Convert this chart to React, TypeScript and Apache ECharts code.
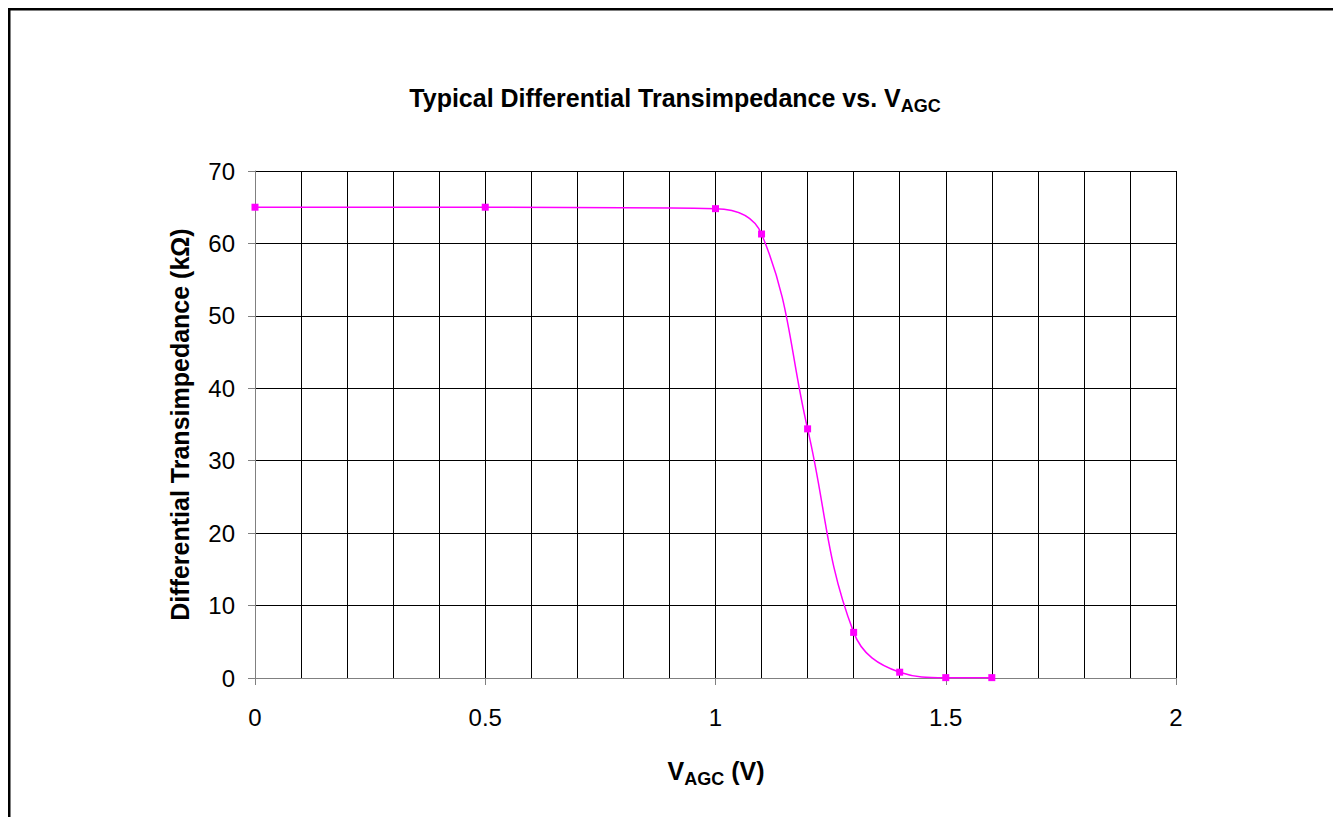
import React, { useEffect, useRef } from "react";
import * as echarts from "echarts";

const vagc = [0, 0.5, 1.0, 1.1, 1.2, 1.3, 1.4, 1.5, 1.6];
const transimpedance = [65.0, 65.0, 64.8, 61.3, 34.4, 6.3, 0.8, 0.05, 0.05];
const titleMain = "Typical Differential Transimpedance vs. V";
const subAGC = "AGC";
const yTitle = "Differential Transimpedance (kΩ)";

const FONT = "'Liberation Sans', Arial, sans-serif";

export default function App() {
  const ref = useRef<HTMLDivElement>(null);
  useEffect(() => {
    if (!ref.current) return;
    const chart = echarts.init(ref.current, undefined, { renderer: "svg" });
    const data = vagc.map((x, i) => [x, transimpedance[i]]);
    const rich = {
      m: { fontSize: 25, fontWeight: "bold", fontFamily: FONT, fill: "#000", lineHeight: 34, verticalAlign: "middle" },
      s: { fontSize: 18, fontWeight: "bold", fontFamily: FONT, fill: "#000", lineHeight: 34, verticalAlign: "bottom", padding: [14, 0, 0, 0] },
    };
    chart.setOption({
      animation: false,
      backgroundColor: "#fff",
      textStyle: { fontFamily: FONT },
      graphic: [
        {
          type: "rect",
          shape: { x: 1, y: 1, width: 1400, height: 900 },
          style: { fill: "none", stroke: "#000", lineWidth: 3 },
          silent: true,
        },
        {
          type: "text",
          x: 667,
          y: 90,
          style: {
            text: "{m|" + titleMain + "}{s|" + subAGC + "}",
            align: "center",
            verticalAlign: "middle",
            rich,
          },
        },
        {
          type: "text",
          x: 708,
          y: 763,
          style: {
            text: "{m|V}{s|" + subAGC + "}{m| (V)}",
            align: "center",
            verticalAlign: "middle",
            rich,
          },
        },
      ],
      grid: { left: 247, top: 163, width: 921, height: 507, containLabel: false },
      xAxis: {
        type: "value",
        min: 0,
        max: 2,
        interval: 0.5,
        axisLine: { show: true, lineStyle: { color: "#808080", width: 1 } },
        axisTick: { show: true, length: 7, lineStyle: { color: "#808080" } },
        axisLabel: { fontSize: 24, color: "#000", margin: 27, fontFamily: FONT },
        splitLine: { show: true, lineStyle: { color: "#000", width: 1 } },
        minorTick: { show: false, splitNumber: 5 },
        minorSplitLine: { show: true, lineStyle: { color: "#000", width: 1 } },
      },
      yAxis: {
        type: "value",
        min: 0,
        max: 70,
        interval: 10,
        name: yTitle,
        nameLocation: "middle",
        nameGap: 63,
        nameTextStyle: { fontSize: 25, fontWeight: "bold", color: "#000", fontFamily: FONT },
        axisLine: { show: true, lineStyle: { color: "#808080", width: 1 } },
        axisTick: { show: true, length: 7, lineStyle: { color: "#808080" } },
        axisLabel: { fontSize: 24, color: "#000", margin: 20, fontFamily: FONT },
        splitLine: { show: true, lineStyle: { color: "#000", width: 1 } },
      },
      series: [
        {
          type: "line",
          data,
          smooth: 0.4,
          symbol: "rect",
          symbolSize: 7,
          itemStyle: { color: "#FF00FF" },
          lineStyle: { color: "#FF00FF", width: 1.5 },
        },
      ],
    });
    return () => chart.dispose();
  }, []);
  return <div ref={ref} style={{ width: 1333, height: 809 }} />;
}
